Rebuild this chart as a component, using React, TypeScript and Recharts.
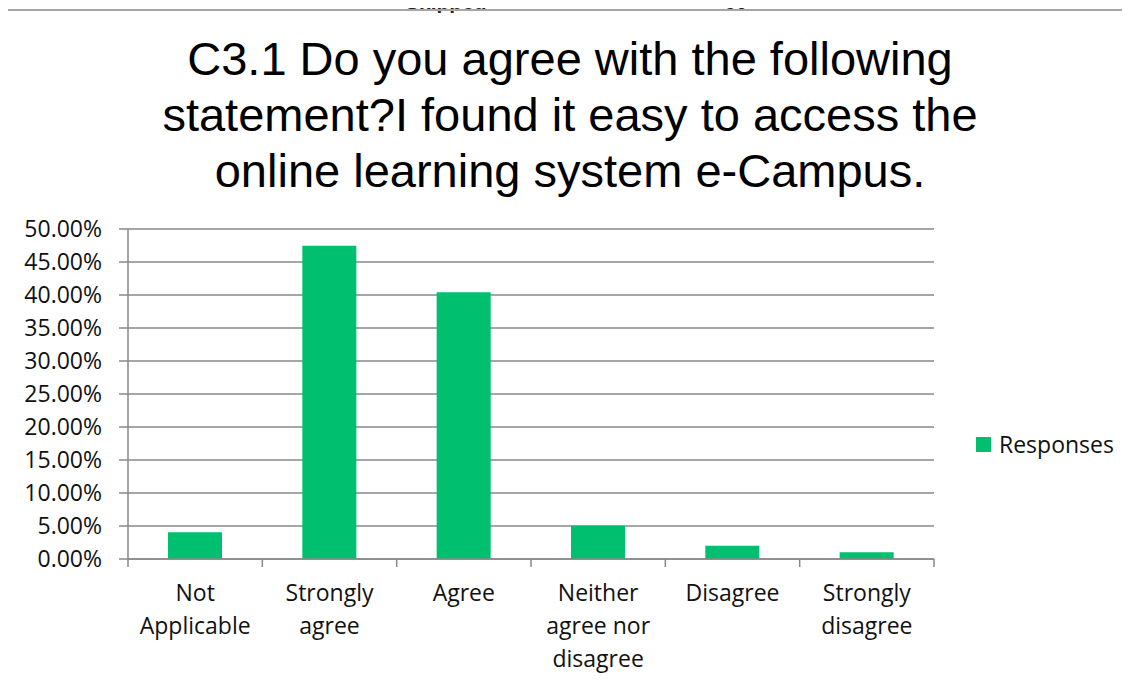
import React from 'react';
import { BarChart, Bar, XAxis, YAxis, CartesianGrid } from 'recharts';

const categories = ['Not Applicable', 'Strongly agree', 'Agree', 'Neither agree nor disagree', 'Disagree', 'Strongly disagree'];
const categoryLines = [['Not', 'Applicable'], ['Strongly', 'agree'], ['Agree'], ['Neither', 'agree nor', 'disagree'], ['Disagree'], ['Strongly', 'disagree']];
const responses = [4.04, 47.47, 40.4, 5.05, 2.02, 1.01];
const yTicks = [0, 5, 10, 15, 20, 25, 30, 35, 40, 45, 50];
const titleLines = ['C3.1 Do you agree with the following', 'statement?I found it easy to access the', 'online learning system e-Campus.'];
const seriesName = 'Responses';

const data = categories.map((c, i) => ({ name: c, lines: categoryLines[i], value: responses[i] }));

const W = 1130;
const H = 684;
const MARGIN = { top: 229, right: 196, bottom: 0, left: 0 };
const X_AXIS_H = 125;
const Y_AXIS_W = 128;
const PLOT_W = W - MARGIN.right - MARGIN.left - Y_AXIS_W;
const BAND = PLOT_W / categories.length;
const GREY = '#888888';
const GREEN = '#00BF6F';
const LABEL_FONT = "'Open Sans', 'Noto Sans', sans-serif";
const LABEL_SIZE = 23;

const XTick = (props: any) => {
  const { x, y, payload, index } = props;
  const idx = typeof index === 'number' ? index : payload.index;
  const lines: string[] = categoryLines[idx] || [String(payload.value)];
  return (
    <g>
      <line x1={x - BAND / 2} x2={x - BAND / 2} y1={y} y2={y + 8} stroke={GREY} strokeWidth={1.5} />
      {idx === categories.length - 1 && (
        <line x1={x + BAND / 2} x2={x + BAND / 2} y1={y} y2={y + 8} stroke={GREY} strokeWidth={1.5} />
      )}
      {lines.map((l, i) => (
        <text key={i} x={x} y={y + 42 + i * 33} textAnchor="middle" fontSize={LABEL_SIZE} fontFamily={LABEL_FONT} fill="#111">
          {l}
        </text>
      ))}
    </g>
  );
};

export default function App() {
  return (
    <div style={{ position: 'relative', left: -8, top: -8, width: W, height: H, overflow: 'hidden', background: '#fff' }}>
      <div style={{ position: 'absolute', left: 405, top: -7, fontFamily: "'Liberation Sans', Arial, sans-serif", fontWeight: 'bold', fontSize: 21, lineHeight: '18px', color: '#222' }}>Skipped</div>
      <div style={{ position: 'absolute', left: 724, top: -7, fontFamily: "'Liberation Sans', Arial, sans-serif", fontWeight: 'bold', fontSize: 21, lineHeight: '18px', color: '#222' }}>60</div>
      <div style={{ position: 'absolute', left: 3, top: 9, width: W, height: 0, borderTop: '2px solid #a6a6a6' }} />
      <div style={{ position: 'absolute', left: 3, top: 9, width: 0, height: H, borderLeft: '1px solid #a6a6a6' }} />
      <div
        style={{
          position: 'absolute',
          left: 0,
          top: 31,
          width: 1140,
          textAlign: 'center',
          fontFamily: "'Liberation Sans', Arial, sans-serif",
          fontSize: 47,
          lineHeight: '56px',
          color: '#000',
        }}
      >
        {titleLines.map((t, i) => (
          <div key={i}>{t}</div>
        ))}
      </div>
      <div style={{ position: 'absolute', left: 0, top: 0 }}>
        <BarChart width={W} height={H} data={data} margin={MARGIN}>
          <CartesianGrid vertical={false} stroke={GREY} strokeWidth={1.5} />
          <XAxis
            dataKey="name"
            axisLine={{ stroke: GREY, strokeWidth: 1.5 }}
            tickLine={false}
            tickSize={0}
            tickMargin={0}
            interval={0}
            tick={<XTick />}
            height={X_AXIS_H}
          />
          <YAxis
            width={Y_AXIS_W}
            domain={[0, 50]}
            ticks={yTicks}
            interval={0}
            tickFormatter={(v: number) => v.toFixed(2) + '%'}
            axisLine={{ stroke: GREY, strokeWidth: 1.5 }}
            tickLine={{ stroke: GREY, strokeWidth: 1.5 }}
            tickSize={9}
            tickMargin={17}
            tick={{ fontSize: LABEL_SIZE, fontFamily: LABEL_FONT, fill: '#111' }}
          />
          <Bar dataKey="value" name={seriesName} fill={GREEN} barSize={54} isAnimationActive={false} />
        </BarChart>
      </div>
      <div style={{ position: 'absolute', left: 976, top: 437, display: 'flex', alignItems: 'center' }}>
        <div style={{ width: 15, height: 15, background: GREEN, marginRight: 8 }} />
        <span style={{ fontFamily: LABEL_FONT, fontSize: LABEL_SIZE, color: '#111', lineHeight: '15px' }}>{seriesName}</span>
      </div>
    </div>
  );
}
